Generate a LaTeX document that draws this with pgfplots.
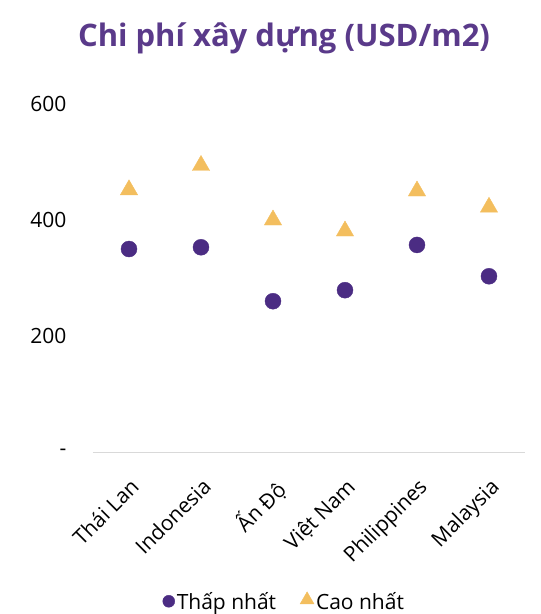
\documentclass[border=0pt]{standalone}
\usepackage{fontspec}
\setmainfont{Open Sans}
\usepackage{pgfplots}
\pgfplotsset{compat=1.18}
\definecolor{cpurple}{HTML}{4B2C83}
\definecolor{ctitle}{HTML}{5A3A8A}
\definecolor{cyellow}{HTML}{F3BE5E}
\definecolor{cgrid}{HTML}{D9D9D9}
\begin{document}
\begin{tikzpicture}
\useasboundingbox (0pt,0pt) rectangle (541pt,614pt);
\node[font=\fontsize{31}{36}\selectfont\bfseries, text=ctitle] at (284pt,576pt) {Chi phí xây dựng (USD/m2)};
\begin{axis}[
  at={(93pt,162pt)}, anchor=south west,
  scale only axis, width=432pt, height=348pt,
  xmin=-0.5, xmax=5.5, ymin=0, ymax=600,
  axis line style={draw=none},
  axis x line*=bottom,
  x axis line style={draw=cgrid, line width=1pt},
  ytick={0,200,400,600}, yticklabels={-,200,400,600},
  xtick={0,1,2,3,4,5},
  xticklabels={Thái Lan,Indonesia,Ấn Độ,Việt Nam,Philippines,Malaysia},
  major tick length=0pt,
  tick style={draw=none},
  yticklabel style={font=\fontsize{21}{24}\selectfont, xshift=-23pt},
  xticklabel style={font=\fontsize{21}{24}\selectfont, rotate=45, anchor=north east, xshift=-14pt, yshift=-14pt},
  /pgf/number format/assume math mode=true,
  legend style={draw=none, fill=none, font=\fontsize{21}{24}\selectfont, at={(0.443,-0.429)}, anchor=center, legend columns=2, /tikz/every even column/.append style={column sep=22pt}, /tikz/every odd column/.append style={column sep=0pt}},
  clip=false,
]
\addplot[only marks, mark=*, mark size=8pt, color=cpurple, mark options={draw=cpurple, fill=cpurple},
  legend image code/.code={\draw[mark=*, mark size=6pt, draw=cpurple, fill=cpurple] plot coordinates {(0.3cm,0cm)};}] coordinates {
(0,350) (1,353) (2,260) (3,279) (4,357) (5,303)};
\addlegendentry{Thấp nhất}
\addplot[only marks, mark=triangle*, mark size=10pt, color=cyellow, mark options={draw=cyellow, fill=cyellow},
  legend image code/.code={\draw[mark=triangle*, mark size=8pt, draw=cyellow, fill=cyellow] plot coordinates {(0.3cm,0.05cm)};}] coordinates {
(0,452) (1,494) (2,400) (3,381) (4,450) (5,422)};
\addlegendentry{Cao nhất}
\end{axis}
\end{tikzpicture}
\end{document}
